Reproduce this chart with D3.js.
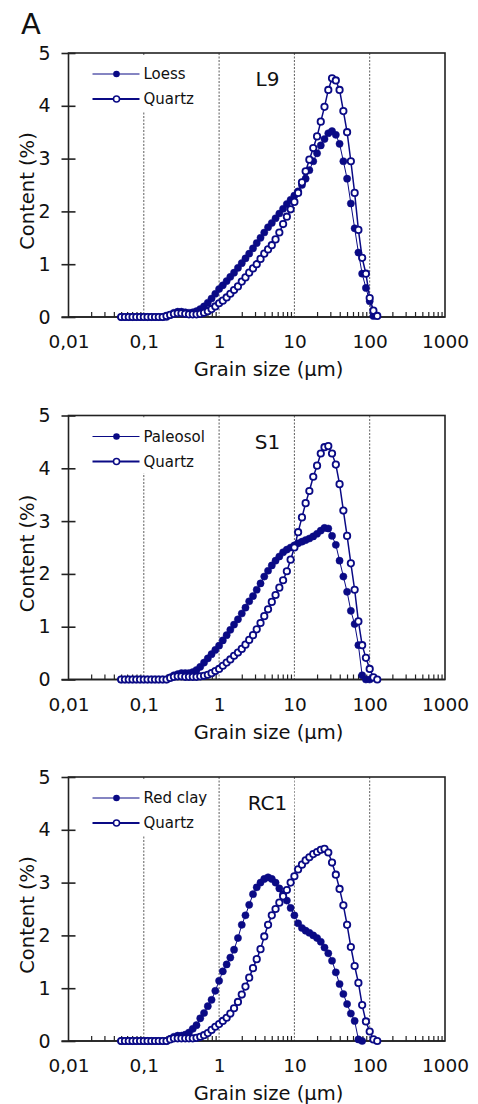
<!DOCTYPE html>
<html>
<head>
<meta charset="utf-8">
<script src="https://cdn.jsdelivr.net/npm/d3@7"></script>
<style>
body { margin: 0; background: #fff; }
svg text { font-family: "DejaVu Sans", sans-serif; fill: #111; }
</style>
</head>
<body>
<svg id="chart" width="478" height="1104"></svg>
<script>
// grain size classes (um)
const sizes = [0.0501, 0.0562, 0.0631, 0.0708, 0.0794, 0.0891, 0.1, 0.112, 0.126, 0.141,
  0.158, 0.178, 0.2, 0.224, 0.251, 0.282, 0.316, 0.355, 0.398, 0.447,
  0.501, 0.562, 0.631, 0.708, 0.794, 0.891, 1, 1.12, 1.26, 1.41,
  1.58, 1.78, 2, 2.24, 2.51, 2.82, 3.16, 3.55, 3.98, 4.47,
  5.01, 5.62, 6.31, 7.08, 7.94, 8.91, 10, 11.2, 12.6, 14.1,
  15.8, 17.8, 20, 22.4, 25.1, 28.2, 31.6, 35.5, 39.8, 44.7,
  50.1, 56.2, 63.1, 70.8, 79.4, 89.1, 100, 112, 126];

const xTicks = [0.01, 0.1, 1, 10, 100, 1000];
const xTickLabels = ["0,01", "0,1", "1", "10", "100", "1000"];
const yTicks = [0, 1, 2, 3, 4, 5];
const gridLines = [0.1, 1, 10, 100];

const panelNames = ["L9", "S1", "RC1"];
const sampleNames = ["Loess", "Paleosol", "Red clay"];

const loessL9 = [0, 0, 0, 0, 0, 0, 0, 0, 0, 0,
  0, 0, 0, 0.04, 0.08, 0.1, 0.1, 0.09, 0.08, 0.09,
  0.11, 0.15, 0.2, 0.27, 0.35, 0.44, 0.53, 0.6, 0.68, 0.76,
  0.84, 0.93, 1.02, 1.11, 1.2, 1.3, 1.4, 1.5, 1.6, 1.7,
  1.78, 1.87, 1.96, 2.05, 2.14, 2.22, 2.3, 2.38, 2.5, 2.62,
  2.78, 2.95, 3.1, 3.25, 3.37, 3.48, 3.52, 3.45, 3.28, 2.95,
  2.62, 2.15, 1.68, 1.22, 0.82, 0.55, 0.3, 0.02];
const quartzL9 = [0, 0, 0, 0, 0, 0, 0, 0, 0, 0,
  0, 0, 0.02, 0.04, 0.06, 0.07, 0.07, 0.06, 0.05, 0.05,
  0.05, 0.06, 0.08, 0.11, 0.15, 0.2, 0.26, 0.31, 0.37, 0.44,
  0.51, 0.58, 0.67, 0.75, 0.84, 0.92, 1.0, 1.1, 1.2, 1.28,
  1.36, 1.47, 1.6, 1.76, 1.9, 2.04, 2.18, 2.35, 2.55, 2.76,
  2.98, 3.2, 3.42, 3.7, 3.98, 4.3, 4.52, 4.48, 4.3, 3.9,
  3.5, 2.95, 2.35, 1.65, 1.12, 0.82, 0.36, 0.12, 0.02];

const paleosolS1 = [0, 0, 0, 0, 0, 0, 0, 0, 0, 0,
  0, 0, 0, 0.04, 0.08, 0.1, 0.12, 0.12, 0.12, 0.14,
  0.18, 0.24, 0.32, 0.4, 0.48, 0.56, 0.64, 0.74, 0.84, 0.94,
  1.04, 1.14, 1.25, 1.36, 1.48, 1.58, 1.7, 1.82, 1.95, 2.06,
  2.16, 2.25, 2.33, 2.41, 2.46, 2.5, 2.54, 2.58, 2.61, 2.64,
  2.67, 2.71, 2.76, 2.82, 2.87, 2.86, 2.72, 2.55, 2.25, 1.95,
  1.66, 1.3, 1.05, 0.65, 0.08, 0, 0];
const quartzS1 = [0, 0, 0, 0, 0, 0, 0, 0, 0, 0,
  0, 0, 0, 0.03, 0.05, 0.06, 0.06, 0.05, 0.05, 0.05,
  0.05, 0.06, 0.07, 0.09, 0.12, 0.16, 0.2, 0.26, 0.32, 0.38,
  0.45, 0.51, 0.58, 0.66, 0.75, 0.84, 0.95, 1.07, 1.2, 1.33,
  1.47, 1.6, 1.74, 1.88, 2.05, 2.27, 2.5, 2.79, 3.07, 3.34,
  3.57, 3.84, 4.05, 4.28, 4.4, 4.42, 4.28, 4.07, 3.7, 3.2,
  2.72, 2.2, 1.7, 1.1, 0.65, 0.41, 0.2, 0.04, 0];

const redClayRC1 = [0, 0, 0, 0, 0, 0, 0, 0, 0, 0,
  0, 0, 0, 0.04, 0.08, 0.1, 0.1, 0.12, 0.16, 0.23,
  0.3, 0.43, 0.53, 0.66, 0.78, 0.95, 1.14, 1.32, 1.45, 1.58,
  1.73, 1.95, 2.2, 2.38, 2.58, 2.78, 2.91, 3.0, 3.07, 3.1,
  3.07, 3.0, 2.89, 2.78, 2.66, 2.52, 2.38, 2.23, 2.14, 2.09,
  2.05, 2.0, 1.95, 1.88, 1.77, 1.66, 1.52, 1.3, 1.08, 0.89,
  0.7, 0.52, 0.38, 0.03, 0];
const quartzRC1 = [0, 0, 0, 0, 0, 0, 0, 0, 0, 0,
  0, 0, 0, 0.03, 0.05, 0.05, 0.05, 0.05, 0.05, 0.05,
  0.06, 0.08, 0.11, 0.15, 0.21, 0.27, 0.32, 0.38, 0.44, 0.52,
  0.62, 0.74, 0.88, 1.03, 1.2, 1.38, 1.55, 1.74, 1.98, 2.2,
  2.38, 2.5, 2.62, 2.74, 2.86, 3.0, 3.12, 3.25, 3.34, 3.42,
  3.48, 3.54, 3.58, 3.62, 3.64, 3.57, 3.38, 3.15, 2.88, 2.57,
  2.2, 1.78, 1.42, 1.1, 0.68, 0.37, 0.18, 0.03, 0];

const sampleSeries = [loessL9, paleosolS1, redClayRC1];
const quartzSeries = [quartzL9, quartzS1, quartzRC1];

const navy = "#0a0a85";
const left = 68.5, right = 445, plotH = 264;
const tops = [53, 415.5, 777];
const w = right - left;

const svg = d3.select("#chart");

svg.append("text").attr("x", 21).attr("y", 34)
  .style("font-size", "29px").text("A");

const x = d3.scaleLog().domain([0.01, 1000]).range([0, w]);
const y = d3.scaleLinear().domain([0, 5]).range([plotH, 0]);

// minor tick positions 2..9 in each decade
let minorTicks = [];
for (let dec = 0.01; dec < 1000; dec *= 10) {
  for (let m = 2; m <= 9; m++) minorTicks.push(+(dec * m).toPrecision(3));
}

const line = d3.line().x(d => x(d[0])).y(d => y(d[1]));

function drawPanel(i) {
  let g = svg.append("g").attr("transform", `translate(${left},${tops[i]})`);
  let sample = sampleSeries[i].map((v, k) => [sizes[k], v]);
  let quartz = quartzSeries[i].map((v, k) => [sizes[k], v]);

  // dotted grid
  g.selectAll(".grid").data(gridLines).enter().append("line")
    .attr("x1", d => x(d)).attr("x2", d => x(d))
    .attr("y1", 0).attr("y2", plotH)
    .attr("stroke", "#333").attr("stroke-width", 0.8)
    .attr("stroke-dasharray", "2,1.5");

  // legend box and panel label (white behind)
  g.append("rect").attr("x", 20).attr("y", 2).attr("width", 118).attr("height", 56).attr("fill", "#fff");
  let lab = g.append("text").attr("x", 199).attr("y", 33)
    .attr("text-anchor", "middle").style("font-size", "20px").text(panelNames[i]);
  let bb = lab.node().getBBox();
  g.insert("rect", "text").attr("x", bb.x - 7).attr("y", 2)
    .attr("width", bb.width + 14).attr("height", 36).attr("fill", "#fff");

  // frame
  g.append("rect").attr("width", w).attr("height", plotH)
    .attr("fill", "none").attr("stroke", "#222").attr("stroke-width", 1.6);

  // y axis
  let ya = g.append("g").call(d3.axisLeft(y).tickValues(yTicks).tickFormat(d3.format("d")).tickSize(7));
  ya.select(".domain").remove();
  ya.selectAll(".tick line").attr("x1", 7).attr("x2", -7).attr("stroke", "#222").attr("stroke-width", 1.6);
  ya.selectAll(".tick text").style("font-size", "19px").attr("x", -18).attr("fill", "#111");

  // x axis labels
  let xa = g.append("g").attr("transform", `translate(0,${plotH})`)
    .call(d3.axisBottom(x).tickValues(xTicks).tickSize(0).tickFormat((d, k) => xTickLabels[k]));
  xa.select(".domain").remove();
  xa.selectAll(".tick text").style("font-size", "18.5px").attr("y", 31).attr("dy", 0).attr("fill", "#111");

  // minor ticks inside
  let xm = g.append("g").attr("transform", `translate(0,${plotH})`)
    .call(d3.axisBottom(x).tickValues(minorTicks).tickSize(-5).tickFormat(""));
  xm.select(".domain").remove();
  xm.selectAll(".tick line").attr("stroke", "#222").attr("stroke-width", 1.2);

  // extend bottom line to the left like the 0 tick
  g.append("line").attr("x1", -7).attr("x2", w).attr("y1", plotH).attr("y2", plotH)
    .attr("stroke", "#222").attr("stroke-width", 1.6);

  g.append("text").attr("x", 200).attr("y", plotH + 59).attr("text-anchor", "middle")
    .style("font-size", "19.5px").text("Grain size (\u03bcm)");
  g.append("text").attr("transform", `translate(${27 - left},${plotH / 2 + 6}) rotate(-90)`)
    .attr("text-anchor", "middle").attr("dy", "0.35em")
    .style("font-size", "19.5px").text("Content (%)");

  // sample series (filled)
  g.append("path").datum(sample).attr("d", line)
    .attr("fill", "none").attr("stroke", navy).attr("stroke-width", 1);
  g.selectAll(".s").data(sample).enter().append("circle")
    .attr("cx", d => x(d[0])).attr("cy", d => y(d[1])).attr("r", 3.6)
    .attr("fill", navy).attr("stroke", navy).attr("stroke-width", 0.5);

  // quartz series (open)
  g.append("path").datum(quartz).attr("d", line)
    .attr("fill", "none").attr("stroke", navy).attr("stroke-width", 1.5);
  g.selectAll(".q").data(quartz).enter().append("circle")
    .attr("cx", d => x(d[0])).attr("cy", d => y(d[1])).attr("r", 3.2)
    .attr("fill", "#fff").attr("stroke", navy).attr("stroke-width", 1.8);

  // legend
  let lg = g.append("g").attr("transform", "translate(24,0)");
  lg.append("line").attr("x1", 0).attr("x2", 47).attr("y1", 21).attr("y2", 21)
    .attr("stroke", navy).attr("stroke-width", 1);
  lg.append("circle").attr("cx", 24).attr("cy", 21).attr("r", 3.3).attr("fill", navy);
  lg.append("text").attr("x", 51).attr("y", 26).style("font-size", "15px").text(sampleNames[i]);
  lg.append("line").attr("x1", 0).attr("x2", 47).attr("y1", 46).attr("y2", 46)
    .attr("stroke", navy).attr("stroke-width", 2);
  lg.append("circle").attr("cx", 24).attr("cy", 46).attr("r", 3)
    .attr("fill", "#fff").attr("stroke", navy).attr("stroke-width", 1.5);
  lg.append("text").attr("x", 51).attr("y", 51).style("font-size", "15px").text("Quartz");
}

for (let i = 0; i < 3; i++) drawPanel(i);
</script>
</body>
</html>
